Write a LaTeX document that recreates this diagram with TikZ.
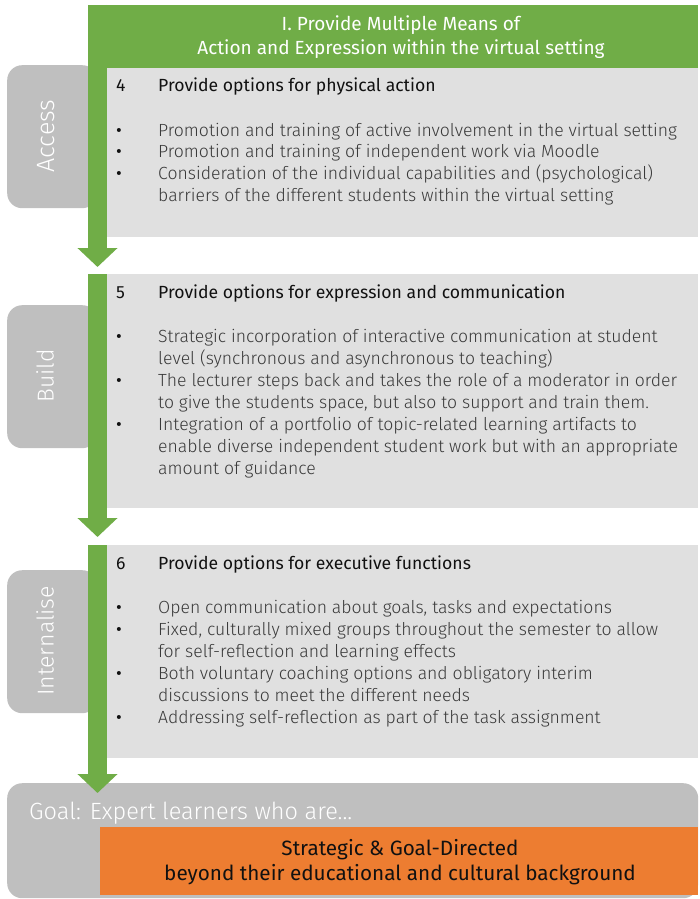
\documentclass[tikz,border=0pt]{standalone}
\usepackage{fontspec}
\setmainfont{Fira Sans}
\newfontfamily\lightfont{Fira Sans Light}
\usetikzlibrary{arrows.meta}
\definecolor{udlgreen}{HTML}{70AD47}
\definecolor{boxgray}{HTML}{E0E0E0}
\definecolor{tabgray}{HTML}{BFBFBF}
\definecolor{goalorange}{HTML}{ED7D31}
\definecolor{bodycol}{HTML}{3A3A3A}
\definecolor{titlecol}{HTML}{111111}
\newcommand\sectitle[2]{\normalfont\color{titlecol}#1 & \normalfont\color{titlecol}#2}
\newcommand\bul{\normalfont\color{titlecol}\textbullet}
\begin{document}
\begin{tikzpicture}[x=1pt,y=1pt,
  secbox/.style={fill=boxgray, draw=none, inner sep=0, anchor=north west},
  tabbox/.style={fill=tabgray, draw=none, inner sep=0, anchor=north west, rounded corners=15pt, minimum width=90pt},
  tablabel/.style={rotate=90, text=white, font=\lightfont\fontsize{23}{26}\selectfont, inner sep=0},
  sectext/.style={anchor=base west, inner sep=0, font=\lightfont\fontsize{17.6}{22}\selectfont, text=bodycol},
  flow/.style={draw=udlgreen, line width=19pt, -{Triangle[width=39pt,length=19pt]}}
]
\useasboundingbox (0,0) rectangle (700,-899);

% tabs
\node[tabbox, minimum height=143pt] (tabA) at (7,-65) {};
\node[tabbox, minimum height=143pt] (tabB) at (7,-305) {};
\node[tabbox, minimum height=143pt] (tabC) at (7,-570) {};
\node[tablabel, font=\lightfont\fontsize{25}{28}\selectfont] (tabAt) at (46,-136) {Access};
\node[tablabel] (tabBt) at (45,-376) {Build};
\node[tablabel] (tabCt) at (45,-641) {Internalise};

% goal box
\node[tabbox, minimum width=691pt, minimum height=115pt] (goal) at (7,-783) {};
\node[anchor=base west, inner sep=0, text=white, font=\lightfont\fontsize{23.5}{26}\selectfont] (goalt) at (29,-819) {Goal: Expert learners who are...};
\node[fill=goalorange, inner sep=0, anchor=north west, minimum width=598pt, minimum height=68pt] (orange) at (100,-827) {};
\node[inner sep=0, align=center, text=titlecol, font=\fontsize{20.7}{25}\selectfont, anchor=base] (oranget) at (400,-880) {Strategic \& Goal-Directed\\beyond their educational and cultural background};

% section boxes
\node[secbox, minimum width=601pt, minimum height=169pt] (sec4) at (97,-68) {};
\node[secbox, minimum width=601pt, minimum height=234pt] (sec5) at (97,-274) {};
\node[secbox, minimum width=601pt, minimum height=213pt] (sec6) at (97,-545) {};

% header
\node[fill=udlgreen, inner sep=0, anchor=north west, minimum width=610pt, minimum height=63pt] (hdr) at (88,-5) {};
\node[inner sep=0, align=center, text=white, font=\fontsize{19}{24}\selectfont, anchor=base] (hdrt) at (401,-55) {I. Provide Multiple Means of\\Action and Expression within the virtual setting};

% arrows
\coordinate (a1s) at (97.5,-5);
\coordinate (a1e) at (97.5,-267);
\coordinate (a2s) at (97.5,-274);
\coordinate (a2e) at (97.5,-537);
\coordinate (a3s) at (97.5,-545);
\coordinate (a3e) at (97.5,-793);
\draw[flow] (a1s) -- (a1e);
\draw[flow] (a2s) -- (a2e);
\draw[flow] (a3s) -- (a3e);

% section texts
\node[sectext] (t4) at (116,-92) {\begin{tabular}[t]{@{}l@{}l@{}}
\sectitle{\makebox[42pt][l]{4}}{Provide options for physical action}\\
 & \\
\bul & Promotion and training of active involvement in the virtual setting\\
\bul & Promotion and training of independent work via Moodle\\
\bul & Consideration of the individual capabilities and (psychological)\\
 & barriers of the different students within the virtual setting
\end{tabular}};

\node[sectext] (t5) at (116,-298) {\begin{tabular}[t]{@{}l@{}l@{}}
\sectitle{\makebox[42pt][l]{5}}{Provide options for expression and communication}\\
 & \\
\bul & Strategic incorporation of interactive communication at student\\
 & level (synchronous and asynchronous to teaching)\\
\bul & The lecturer steps back and takes the role of a moderator in order\\
 & to give the students space, but also to support and train them.\\
\bul & Integration of a portfolio of topic-related learning artifacts to\\
 & enable diverse independent student work but with an appropriate\\
 & amount of guidance
\end{tabular}};

\node[sectext] (t6) at (116,-569) {\begin{tabular}[t]{@{}l@{}l@{}}
\sectitle{\makebox[42pt][l]{6}}{Provide options for executive functions}\\
 & \\
\bul & Open communication about goals, tasks and expectations\\
\bul & Fixed, culturally mixed groups throughout the semester to allow\\
 & for self-reflection and learning effects\\
\bul & Both voluntary coaching options and obligatory interim\\
 & discussions to meet the different needs\\
\bul & Addressing self-reflection as part of the task assignment
\end{tabular}};
\end{tikzpicture}
\end{document}
